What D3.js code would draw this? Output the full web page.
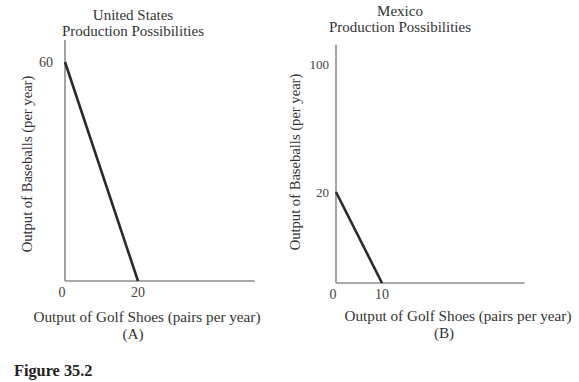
<!DOCTYPE html>
<html>
<head>
<meta charset="utf-8">
<script src="https://cdn.jsdelivr.net/npm/d3@7"></script>
<style>
  html, body { margin: 0; padding: 0; background: #fff; }
  svg { display: block; }
  text { font-family: "Liberation Serif", "Times New Roman", serif; fill: #333; }
</style>
</head>
<body>
<svg id="chart" width="579" height="382"></svg>
<script>
// ---- Data ----
const usTitle = ["United States", "Production Possibilities"];
const usFrontier = [{shoes: 0, baseballs: 60}, {shoes: 20, baseballs: 0}];
const usXTicks = [0, 20];
const usYTicks = [60];
const usPanel = "(A)";

const mxTitle = ["Mexico", "Production Possibilities"];
const mxFrontier = [{shoes: 0, baseballs: 20}, {shoes: 10, baseballs: 0}];
const mxXTicks = [0, 10];
const mxYTicks = [100, 20];
const mxPanel = "(B)";

const xLabel = "Output of Golf Shoes (pairs per year)";
const yLabel = "Output of Baseballs (per year)";
const figureLabel = "Figure 35.2";

const svg = d3.select("#chart");

function panel(cfg) {
  const g = svg.append("g");
  const x = d3.scaleLinear().domain(cfg.xDomain).range(cfg.xRange);
  const y = d3.scaleLinear().domain(cfg.yDomain).range(cfg.yRange);

  // axes
  g.append("line")
    .attr("x1", x(0)).attr("x2", x(0))
    .attr("y1", y(0)).attr("y2", y(cfg.yMax))
    .attr("stroke", "#8c8c8c").attr("stroke-width", 1.6);
  g.append("line")
    .attr("x1", x(0)).attr("x2", x(cfg.xMax))
    .attr("y1", y(0)).attr("y2", y(0))
    .attr("stroke", "#8c8c8c").attr("stroke-width", 1.6);

  // frontier
  const line = d3.line().x(d => x(d.shoes)).y(d => y(d.baseballs));
  g.append("path").datum(cfg.data)
    .attr("d", line)
    .attr("fill", "none")
    .attr("stroke", "#2b2b2b")
    .attr("stroke-width", 2.6);

  // x ticks
  g.selectAll(".xt").data(cfg.xTicks).enter().append("text")
    .attr("x", d => x(d) + (d === 0 ? -3 : 0))
    .attr("y", y(0) + 16)
    .attr("text-anchor", "middle")
    .style("font-size", "14px")
    .style("fill", "#444")
    .text(d => d);

  // y ticks
  g.selectAll(".yt").data(cfg.yTicks).enter().append("text")
    .attr("x", x(0) - cfg.yTickOffset)
    .attr("y", d => y(d))
    .attr("dy", "0.35em")
    .attr("text-anchor", "end")
    .style("font-size", cfg.yTickSize)
    .style("fill", "#444")
    .text(d => d);

  // title
  g.selectAll(".tt").data(cfg.title).enter().append("text")
    .attr("x", cfg.titleX)
    .attr("y", (d, i) => cfg.titleY + i * 16)
    .attr("text-anchor", "middle")
    .style("font-size", "15px")
    .text(d => d);

  // x label
  g.append("text")
    .attr("x", cfg.xLabelX).attr("y", cfg.xLabelY)
    .attr("text-anchor", "middle")
    .style("font-size", "15.2px")
    .text(xLabel);
  g.append("text")
    .attr("x", cfg.panelX).attr("y", cfg.xLabelY + 16.5)
    .attr("text-anchor", "middle")
    .style("font-size", "15.2px")
    .text(cfg.panel);

  // y label
  g.append("text")
    .attr("transform", `translate(${cfg.yLabelX},${cfg.yLabelY}) rotate(-90)`)
    .attr("text-anchor", "middle")
    .style("font-size", "14.6px")
    .text(yLabel);
}

panel({
  data: usFrontier, xTicks: usXTicks, yTicks: usYTicks, title: usTitle, panel: usPanel,
  xDomain: [0, 20], xRange: [65, 138], xMax: 52,
  yDomain: [0, 60], yRange: [281, 62], yMax: 66,
  yTickOffset: 12, yTickSize: "14px",
  titleX: 133, titleY: 20,
  xLabelX: 147, xLabelY: 322, panelX: 133,
  yLabelX: 32, yLabelY: 164
});

panel({
  data: mxFrontier, xTicks: mxXTicks, yTicks: mxYTicks, title: mxTitle, panel: mxPanel,
  xDomain: [0, 10], xRange: [336, 382], xMax: 41,
  yDomain: [0, 20, 100], yRange: [283, 192, 64], yMax: 112,
  yTickOffset: 7, yTickSize: "13px",
  titleX: 400, titleY: 16,
  xLabelX: 458, xLabelY: 321, panelX: 444,
  yLabelX: 300, yLabelY: 162
});

svg.append("text")
  .attr("x", 14).attr("y", 376)
  .style("font-size", "16.3px")
  .style("font-weight", "bold")
  .style("fill", "#222")
  .text(figureLabel);
</script>
</body>
</html>
